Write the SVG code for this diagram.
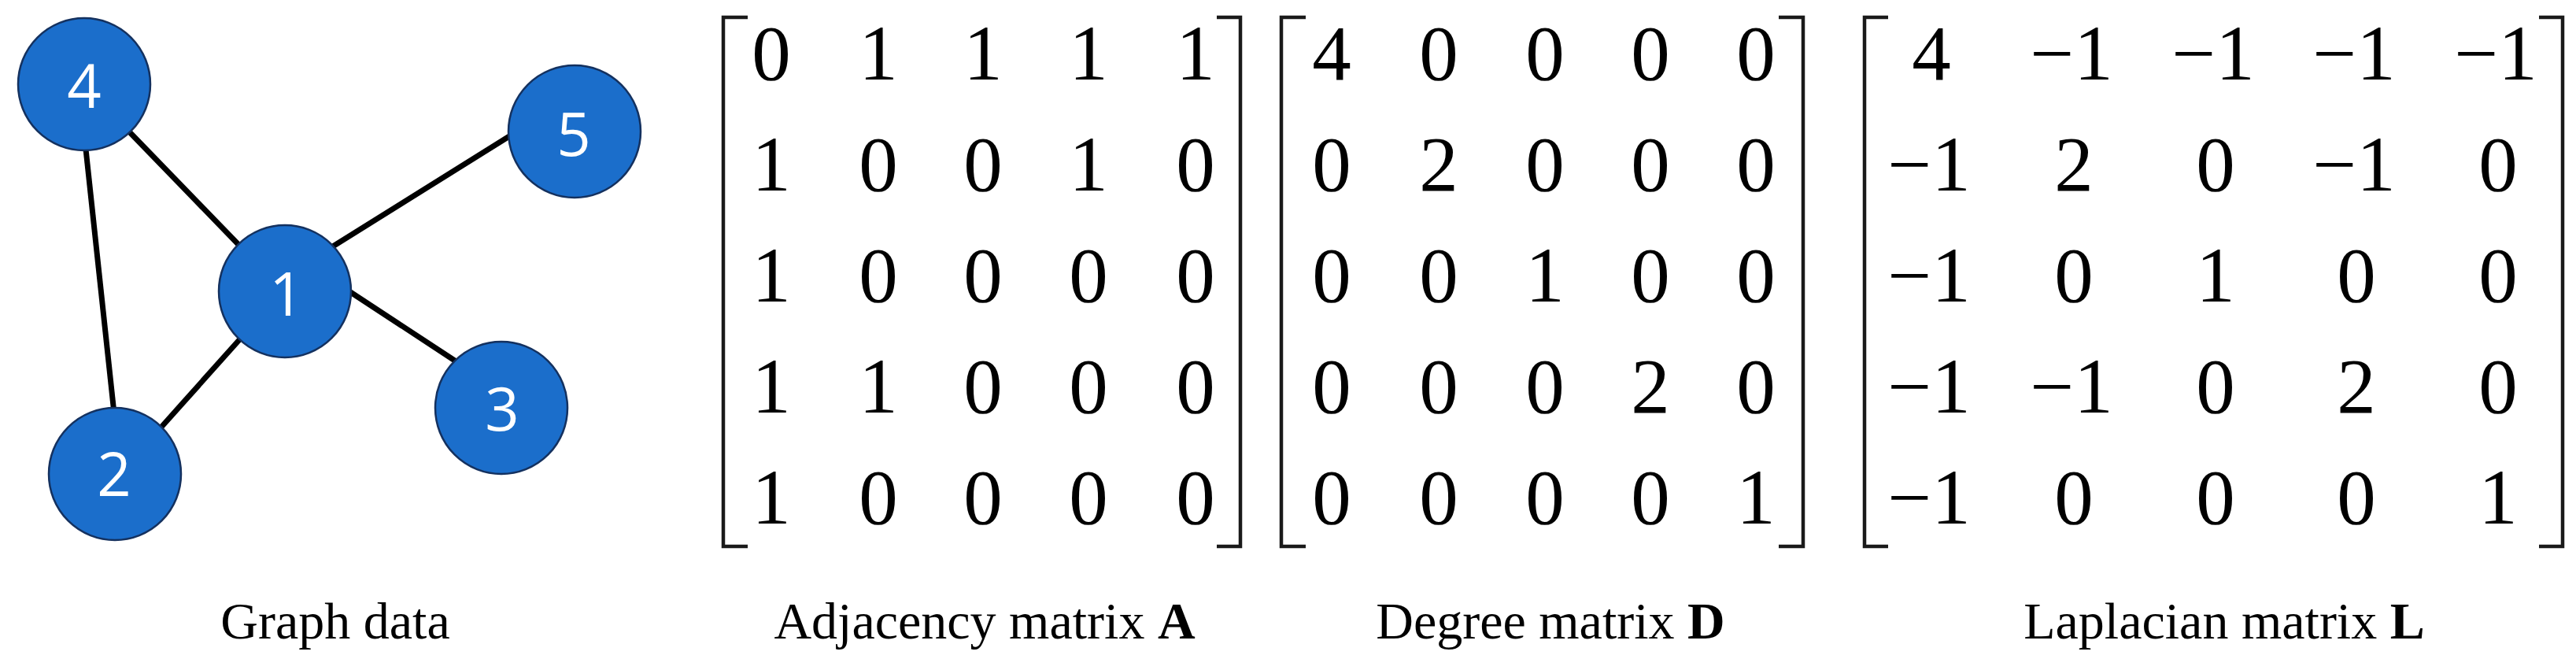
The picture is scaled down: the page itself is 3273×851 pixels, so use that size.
<svg xmlns="http://www.w3.org/2000/svg" width="3273" height="851" viewBox="0 0 3273 851">
<style>
.edge{stroke:#000;stroke-width:7;stroke-linecap:butt;fill:none}
.node{fill:#1b6ecb;stroke:#14315f;stroke-width:2.5}
.nl{font-family:"Open Sans","Noto Sans",sans-serif;font-size:76px;fill:#fff;text-anchor:middle}
.br{fill:none;stroke:#1a1a1a;stroke-width:4.5;stroke-linejoin:miter;stroke-linecap:butt}
.m{font-family:"Liberation Serif","Times New Roman",serif;font-size:99px;fill:#000;text-anchor:middle}
.cap{font-family:"Liberation Serif","Times New Roman",serif;font-size:66px;fill:#000;text-anchor:middle}
.b{font-weight:bold}
</style>
<rect width="3273" height="851" fill="#fff"/>
<g id="connectors">
<line class="edge" x1="108" y1="180" x2="145" y2="525"/>
<line class="edge" x1="160" y1="163" x2="315" y2="323"/>
<line class="edge" x1="410" y1="321" x2="660" y2="165"/>
<line class="edge" x1="430" y1="361" x2="590" y2="466"/>
<line class="edge" x1="310" y1="425" x2="200" y2="548"/>
</g>
<g id="node4"><circle class="node" cx="107" cy="107" r="84"/><text class="nl" x="107" y="137">4</text></g>
<g id="node5"><circle class="node" cx="730" cy="167" r="84"/><text class="nl" x="729" y="198">5</text></g>
<g id="node1"><circle class="node" cx="362" cy="370" r="84"/><text class="nl" x="364" y="401">1</text></g>
<g id="node3"><circle class="node" cx="637" cy="518" r="84"/><text class="nl" x="638" y="547">3</text></g>
<g id="node2"><circle class="node" cx="146" cy="602" r="84"/><text class="nl" x="145" y="630">2</text></g>
<text class="cap" x="426" y="811">Graph data</text>

<g id="matrixA">
<path class="br" d="M950 22 H919 V694 H950"/>
<path class="br" d="M1546 22 H1576 V694 H1546"/>
<text class="m" y="101"><tspan x="980">0</tspan><tspan x="1116">1</tspan><tspan x="1249">1</tspan><tspan x="1383">1</tspan><tspan x="1519">1</tspan></text>
<text class="m" y="242"><tspan x="980">1</tspan><tspan x="1116">0</tspan><tspan x="1249">0</tspan><tspan x="1383">1</tspan><tspan x="1519">0</tspan></text>
<text class="m" y="383"><tspan x="980">1</tspan><tspan x="1116">0</tspan><tspan x="1249">0</tspan><tspan x="1383">0</tspan><tspan x="1519">0</tspan></text>
<text class="m" y="524"><tspan x="980">1</tspan><tspan x="1116">1</tspan><tspan x="1249">0</tspan><tspan x="1383">0</tspan><tspan x="1519">0</tspan></text>
<text class="m" y="665"><tspan x="980">1</tspan><tspan x="1116">0</tspan><tspan x="1249">0</tspan><tspan x="1383">0</tspan><tspan x="1519">0</tspan></text>
<text class="cap" x="1251" y="811">Adjacency matrix <tspan class="b">A</tspan></text>
</g>

<g id="matrixD">
<path class="br" d="M1659 22 H1628 V694 H1659"/>
<path class="br" d="M2260 22 H2291 V694 H2260"/>
<text class="m" y="101"><tspan x="1692">4</tspan><tspan x="1828">0</tspan><tspan x="1963">0</tspan><tspan x="2097">0</tspan><tspan x="2231">0</tspan></text>
<text class="m" y="242"><tspan x="1692">0</tspan><tspan x="1828">2</tspan><tspan x="1963">0</tspan><tspan x="2097">0</tspan><tspan x="2231">0</tspan></text>
<text class="m" y="383"><tspan x="1692">0</tspan><tspan x="1828">0</tspan><tspan x="1963">1</tspan><tspan x="2097">0</tspan><tspan x="2231">0</tspan></text>
<text class="m" y="524"><tspan x="1692">0</tspan><tspan x="1828">0</tspan><tspan x="1963">0</tspan><tspan x="2097">2</tspan><tspan x="2231">0</tspan></text>
<text class="m" y="665"><tspan x="1692">0</tspan><tspan x="1828">0</tspan><tspan x="1963">0</tspan><tspan x="2097">0</tspan><tspan x="2231">1</tspan></text>
<text class="cap" x="1970" y="811">Degree matrix <tspan class="b">D</tspan></text>
</g>

<g id="matrixL">
<path class="br" d="M2399 22 H2369 V694 H2399"/>
<path class="br" d="M3226 22 H3256 V694 H3226"/>
<text class="m" y="101"><tspan x="2454">4</tspan><tspan x="2632">−1</tspan><tspan x="2812">−1</tspan><tspan x="2991">−1</tspan><tspan x="3171">−1</tspan></text>
<text class="m" y="242"><tspan x="2451">−1</tspan><tspan x="2635">2</tspan><tspan x="2815">0</tspan><tspan x="2991">−1</tspan><tspan x="3174">0</tspan></text>
<text class="m" y="383"><tspan x="2451">−1</tspan><tspan x="2635">0</tspan><tspan x="2815">1</tspan><tspan x="2994">0</tspan><tspan x="3174">0</tspan></text>
<text class="m" y="524"><tspan x="2451">−1</tspan><tspan x="2632">−1</tspan><tspan x="2815">0</tspan><tspan x="2994">2</tspan><tspan x="3174">0</tspan></text>
<text class="m" y="665"><tspan x="2451">−1</tspan><tspan x="2635">0</tspan><tspan x="2815">0</tspan><tspan x="2994">0</tspan><tspan x="3174">1</tspan></text>
<text class="cap" x="2826" y="811">Laplacian matrix <tspan class="b">L</tspan></text>
</g>
</svg>
